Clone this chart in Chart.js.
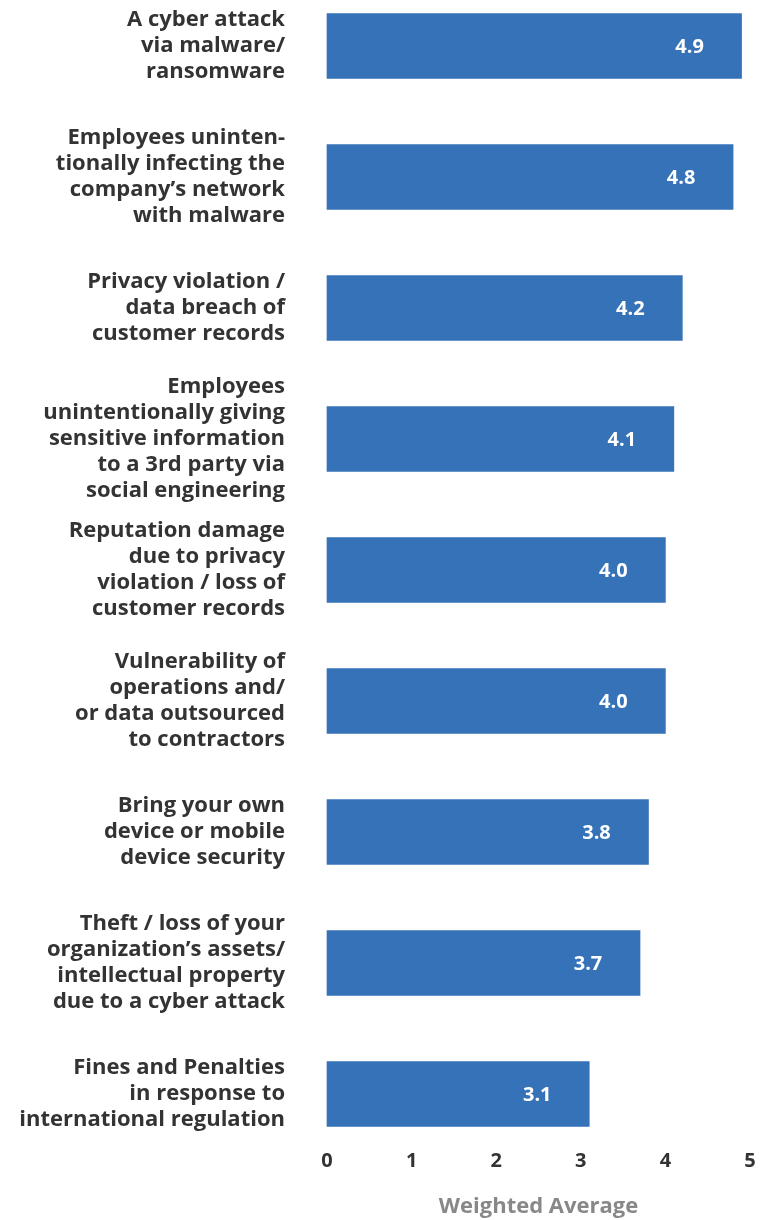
<!DOCTYPE html>
<html>
<head>
<meta charset="utf-8">
<script src="https://cdn.jsdelivr.net/npm/chart.js@4"></script>
<style>
    html, body { margin: 0; padding: 0; background: #ffffff; }
    #wrap { width: 770px; height: 1220px; }
</style>
</head>
<body>
<div id="wrap"><canvas id="riskChart" width="770" height="1220"></canvas></div>
<script>
// Categorias (cada una partida en lineas)
const riskLabels = [
    ['A cyber attack', 'via malware/', 'ransomware'],
    ['Employees uninten-', 'tionally infecting the', 'company\u2019s network', 'with malware'],
    ['Privacy violation /', 'data breach of', 'customer records'],
    ['Employees', 'unintentionally giving', 'sensitive information', 'to a 3rd party via', 'social engineering'],
    ['Reputation damage', 'due to privacy', 'violation / loss of', 'customer records'],
    ['Vulnerability of', 'operations and/', 'or data outsourced', 'to contractors'],
    ['Bring your own', 'device or mobile', 'device security'],
    ['Theft / loss of your', 'organization\u2019s assets/', 'intellectual property', 'due to a cyber attack'],
    ['Fines and Penalties', 'in response to', 'international regulation']
];

// Promedio ponderado por riesgo
const weightedAvg = [4.9, 4.8, 4.2, 4.1, 4.0, 4.0, 3.8, 3.7, 3.1];

// Marcas del eje X
const axisTicks = [0, 1, 2, 3, 4, 5];

const FONT = '"Open Sans", "DejaVu Sans", sans-serif';
const BAR_COLOR = '#3572b7';
const TEXT_COLOR = '#333333';

// Escribe el valor dentro de cada barra, cerca del final
const valueLabels = {
    id: 'valueLabels',
    afterDatasetsDraw(chart) {
        const ctx = chart.ctx;
        const meta = chart.getDatasetMeta(0);
        ctx.save();
        ctx.fillStyle = '#ffffff';
        ctx.font = 'bold 20px ' + FONT;
        ctx.textAlign = 'center';
        ctx.textBaseline = 'middle';
        meta.data.forEach((bar, i) => {
            ctx.fillText(weightedAvg[i].toFixed(1), bar.x - 52, bar.y + 1);
        });
        ctx.restore();
    }
};

const ctx = document.getElementById('riskChart').getContext('2d');
const riskChart = new Chart(ctx, {
    type: 'bar',
    data: {
        labels: riskLabels,
        datasets: [{
            data: weightedAvg,
            backgroundColor: BAR_COLOR,
            barThickness: 65,
            borderWidth: 0,
            clip: false
        }]
    },
    options: {
        responsive: false,
        animation: false,
        indexAxis: 'y',
        layout: {
            padding: { top: 46, right: 20, bottom: 0, left: 0 }
        },
        plugins: {
            legend: { display: false },
            tooltip: { enabled: false }
        },
        scales: {
            x: {
                min: 0,
                max: 5,
                afterBuildTicks: (scale) => {
                    scale.ticks = axisTicks.map(v => ({ value: v }));
                },
                afterFit: (scale) => {
                    // alto fijo del eje y sin reserva extra en los extremos
                    scale.height = 126;
                    scale.paddingLeft = 0;
                    scale.paddingRight = 0;
                },
                grid: { display: false, drawTicks: false },
                border: { display: false },
                ticks: {
                    color: TEXT_COLOR,
                    padding: 55,
                    font: { family: FONT, size: 20, weight: 'bold' }
                },
                title: {
                    display: true,
                    text: 'Weighted Average',
                    color: '#888888',
                    padding: { top: 20, bottom: 0 },
                    font: { family: FONT, size: 22, weight: 'bold' }
                }
            },
            y: {
                offset: false,
                afterFit: (scale) => {
                    scale.width = 327;
                    scale.paddingTop = 0;
                    scale.paddingBottom = 0;
                },
                grid: { display: false, drawTicks: false },
                border: { display: false },
                ticks: {
                    color: TEXT_COLOR,
                    padding: 42,
                    autoSkip: false,
                    font: { family: FONT, size: 22, weight: 'bold', lineHeight: '26px' }
                }
            }
        }
    },
    plugins: [valueLabels]
});
</script>
</body>
</html>
